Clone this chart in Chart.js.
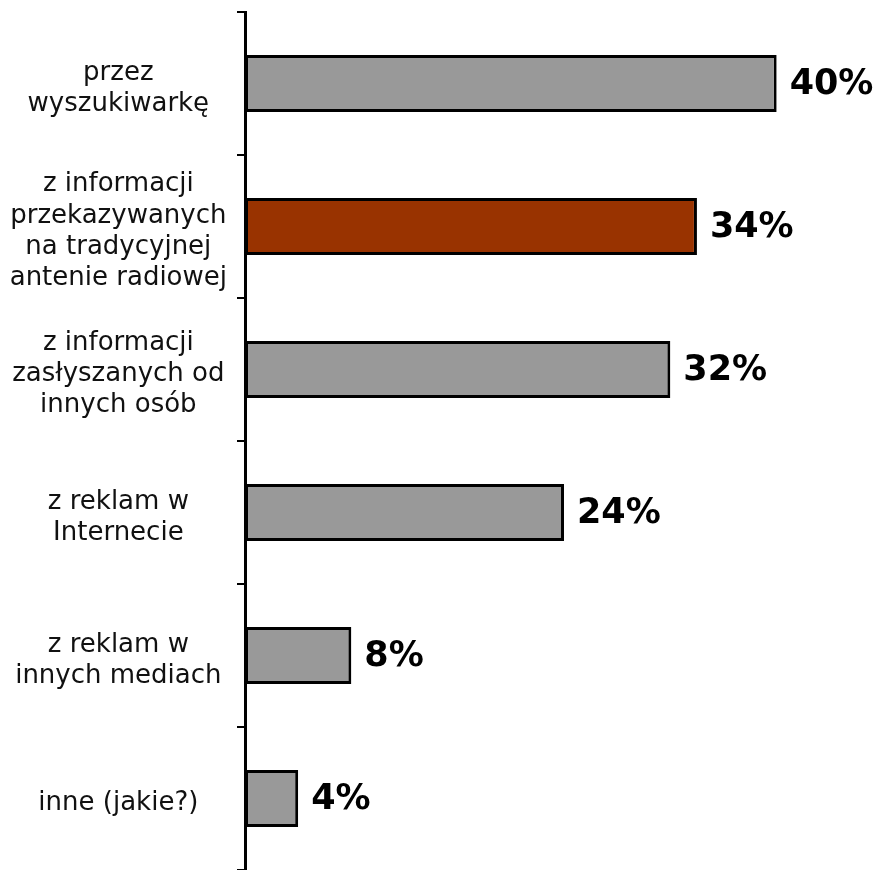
<!DOCTYPE html>
<html>
<head>
<meta charset="utf-8">
<script src="https://cdn.jsdelivr.net/npm/chart.js@4.4.0/dist/chart.umd.min.js"></script>
<style>
  html, body { margin: 0; padding: 0; background: #fff; }
  #wrap { width: 879px; height: 870px; }
</style>
</head>
<body>
<div id="wrap"><canvas id="chart"></canvas></div>
<script>
// Źródła informacji - odpowiedzi w procentach
const categories = [
    ['przez', 'wyszukiwarkę'],
    ['z informacji', 'przekazywanych', 'na tradycyjnej', 'antenie radiowej'],
    ['z informacji', 'zasłyszanych od', 'innych osób'],
    ['z reklam w', 'Internecie'],
    ['z reklam w', 'innych mediach'],
    ['inne (jakie?)']
];
const values = [40, 34, 32, 24, 8, 4];
const barColors = ['#999999', '#993300', '#999999', '#999999', '#999999', '#999999'];

// Etykiety z wartościami po prawej stronie słupków
const valueLabels = {
    id: 'valueLabels',
    afterDatasetsDraw(chart) {
        const ctx = chart.ctx;
        const meta = chart.getDatasetMeta(0);
        ctx.save();
        ctx.font = 'bold 35px "DejaVu Sans"';
        ctx.fillStyle = '#000';
        ctx.textAlign = 'left';
        ctx.textBaseline = 'middle';
        meta.data.forEach((bar, i) => {
            ctx.fillText(values[i] + '%', bar.x + 13, bar.y + 1);
        });
        ctx.restore();
    }
};

new Chart(document.getElementById('chart'), {
    type: 'bar',
    data: {
        labels: categories,
        datasets: [{
            data: values,
            backgroundColor: barColors,
            borderColor: '#000',
            borderWidth: 3,
            borderSkipped: false,
            categoryPercentage: 1,
            barPercentage: 0.4
        }]
    },
    options: {
        indexAxis: 'y',
        responsive: true,
        maintainAspectRatio: false,
        animation: false,
        layout: { padding: { top: 12, bottom: 0, left: 0, right: 0 } },
        plugins: {
            legend: { display: false },
            tooltip: { enabled: false }
        },
        scales: {
            x: {
                display: false,
                min: 0,
                max: 47.7
            },
            y: {
                afterFit(scale) {
                    // stała szerokość osi, bez dodatkowego marginesu od etykiet
                    scale.width = 245;
                    scale.paddingTop = 0;
                    scale.paddingBottom = 0;
                },
                border: { display: true, color: '#000', width: 3 },
                grid: {
                    offset: true,
                    drawOnChartArea: false,
                    drawTicks: true,
                    tickLength: 8,
                    color: '#000',
                    lineWidth: 2
                },
                ticks: {
                    crossAlign: 'center',
                    padding: 10,
                    labelOffset: 5,
                    color: '#111',
                    font: { family: '"DejaVu Sans"', size: 26 }
                }
            }
        }
    },
    plugins: [valueLabels]
});
</script>
</body>
</html>
